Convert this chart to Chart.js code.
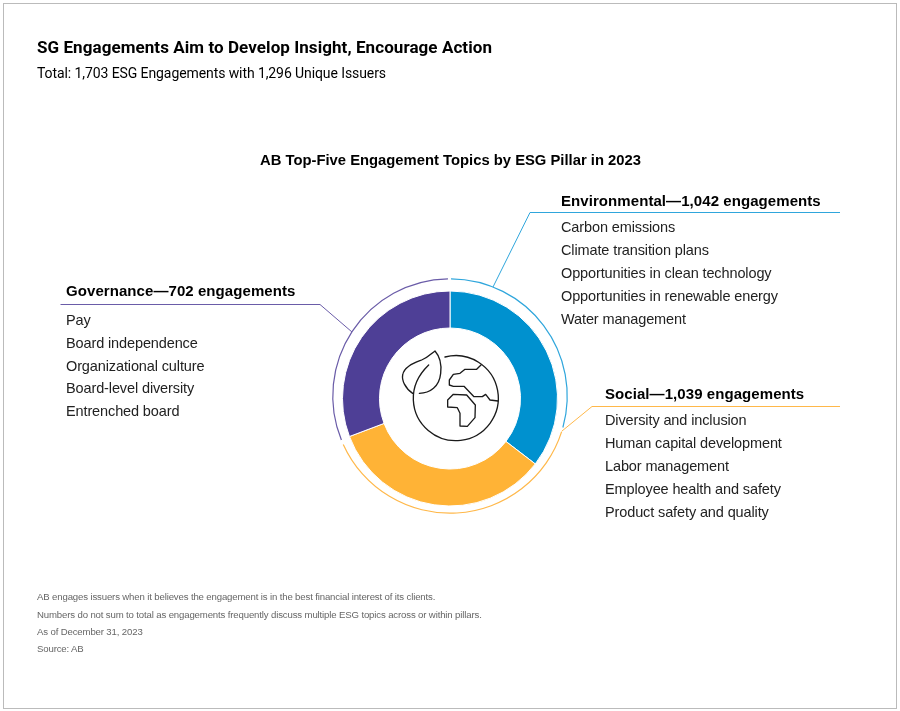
<!DOCTYPE html>
<html>
<head>
<meta charset="utf-8">
<title>ESG Engagements</title>
<script src="https://cdn.jsdelivr.net/npm/chart.js@4"></script>
<style>
  html, body { margin:0; padding:0; background:#fff; }
  #page { position:relative; width:900px; height:711px; overflow:hidden; color:#000; }
  #frame { position:absolute; left:3px; top:3px; width:892px; height:704px; border:1px solid #bbb; }
  #chart, #ring { position:absolute; left:0; top:0; }
  #icon { position:absolute; left:400px; top:345px; }
  .t { position:absolute; white-space:nowrap; }
  .title { font:700 17px/20px Roboto, sans-serif; letter-spacing:.07px; }
  .sub { font:400 14px/20px Roboto, sans-serif; letter-spacing:-.09px; }
  .head { font:700 14.8px/20px "Liberation Sans", sans-serif; }
  .pillar { font:700 15px/20px "Liberation Sans", sans-serif; letter-spacing:.07px; }
  .item { font:400 14.5px/20px "Liberation Sans", sans-serif; letter-spacing:-.12px; color:#222; }
  .note { font:400 9.6px/20px "Liberation Sans", sans-serif; letter-spacing:-.14px; color:#666; }
</style>
</head>
<body>
<div id="page">
  <div id="frame"></div>
  <canvas id="chart" width="900" height="711"></canvas>
  <canvas id="ring" width="900" height="711"></canvas>
  <svg id="icon" width="110" height="100" viewBox="0 0 330 300" fill="none" stroke="#1a1a1a" stroke-width="4" stroke-linejoin="round" stroke-linecap="round">
    <path d="M135 36 A127.5 127.5 0 1 1 40 165 C38 120 60 85 86 60"/>
    <path d="M38 145 C15 130 5 105 8 90 C12 65 40 55 65 45 C85 37 95 25 105 18 C120 35 125 60 122 85 C118 125 90 145 58 145"/>
    <path d="M243 60 L230 73 L195 73 L180 85 L160 88 L148 105 L148 120 L160 124 L192 124 L222 155 L247 155 L257 148 L270 165 L294 168"/>
    <path d="M160 148 L143 165 L143 186 L172 188 L180 205 L180 243 L202 244 L225 218 L226 180 L200 150 Z"/>
  </svg>
</div>
<script>
const titleText = "SG Engagements Aim to Develop Insight, Encourage Action";
const subText = "Total: 1,703 ESG Engagements with 1,296 Unique Issuers";
const chartHead = "AB Top-Five Engagement Topics by ESG Pillar in 2023";

const pillars = ["Environmental", "Social", "Governance"];
const engagements = ["1,042", "1,039", "702"];
const colors = ["#0091cf", "#ffb336", "#4e3f96"];

// slice sizes in degrees (they don't follow the counts exactly)
const sliceDegrees = [127.5, 121.8, 110.7];
// thin outer ring: gap, environmental, gap, social, gap, governance, gap
const ringDegrees = [0.5, 105.1, 2.1, 137.9, 2.3, 111.1, 1];
const ringColors = ["transparent", "#2fa6dc", "transparent", "#ffb84a", "transparent", "#6a5ca8", "transparent"];

const envTopics = ["Carbon emissions", "Climate transition plans", "Opportunities in clean technology", "Opportunities in renewable energy", "Water management"];
const socTopics = ["Diversity and inclusion", "Human capital development", "Labor management", "Employee health and safety", "Product safety and quality"];
const govTopics = ["Pay", "Board independence", "Organizational culture", "Board-level diversity", "Entrenched board"];

const notes = [
  "AB engages issuers when it believes the engagement is in the best financial interest of its clients.",
  "Numbers do not sum to total as engagements frequently discuss multiple ESG topics across or within pillars.",
  "As of December 31, 2023",
  "Source: AB"
];

const page = document.getElementById("page");

function addText(text, cls, x, midY){
  const el = document.createElement("div");
  el.className = "t " + cls;
  el.textContent = text;
  el.style.left = x + "px";
  el.style.top = (midY - 10) + "px";
  page.appendChild(el);
}

addText(titleText, "title", 37, 47);
addText(subText, "sub", 37, 73);
addText(chartHead, "head", 260, 160);

function addBlock(i, topics, x, headY, rowYs){
  addText(pillars[i] + "—" + engagements[i] + " engagements", "pillar", x, headY);
  topics.forEach((t, n) => addText(t, "item", x, rowYs[n]));
}
addBlock(0, envTopics, 561, 201, [227, 250, 273, 296, 319]);
addBlock(1, socTopics, 605, 394, [420, 443, 466, 489, 512]);
addBlock(2, govTopics, 66, 291, [320, 343, 366, 388, 411]);

[597, 615, 632, 649].forEach((y, i) => addText(notes[i], "note", 37, y));

/* LEADER LINES */
const leaders = [
  { color:"#2fa6dc", pts:[[840,212.5],[530,212.5],[493,287]] },
  { color:"#ffb84a", pts:[[840,406.5],[592,406.5],[562,431]] },
  { color:"#6a5ca8", pts:[[60.5,304.5],[320,304.5],[352,332]] }
];
const leaderLines = {
  id: "leaderLines",
  afterDraw(chart){
    const ctx = chart.ctx;
    ctx.save();
    ctx.lineWidth = 1;
    leaders.forEach(l => {
      ctx.strokeStyle = l.color;
      ctx.beginPath();
      l.pts.forEach((p, i) => i ? ctx.lineTo(p[0], p[1]) : ctx.moveTo(p[0], p[1]));
      ctx.stroke();
    });
    ctx.restore();
  }
};

/* DOUGHNUT */
new Chart(document.getElementById("chart"), {
  type: "doughnut",
  data: {
    labels: pillars,
    datasets: [
      { data: sliceDegrees, backgroundColor: colors, borderColor: "#fff", borderWidth: 1 }
    ]
  },
  options: {
    responsive: false,
    animation: false,
    events: [],
    cutout: 70.5,
    hoverOffset: 0,
    layout: { padding: { left: 342, right: 342, top: 290.5, bottom: 204.5 } },
    plugins: { legend: { display: false }, tooltip: { enabled: false } }
  },
  plugins: [leaderLines]
});

/* OUTER RING - sits a little higher than the doughnut, so it gets its own chart */
new Chart(document.getElementById("ring"), {
  type: "doughnut",
  data: {
    datasets: [
      { data: ringDegrees, backgroundColor: ringColors, borderWidth: 0 }
    ]
  },
  options: {
    responsive: false,
    animation: false,
    events: [],
    cutout: 116.6,
    hoverOffset: 0,
    layout: { padding: { left: 332.2, right: 332.2, top: 278.2, bottom: 197.2 } },
    plugins: { legend: { display: false }, tooltip: { enabled: false } }
  }
});
</script>
</body>
</html>
